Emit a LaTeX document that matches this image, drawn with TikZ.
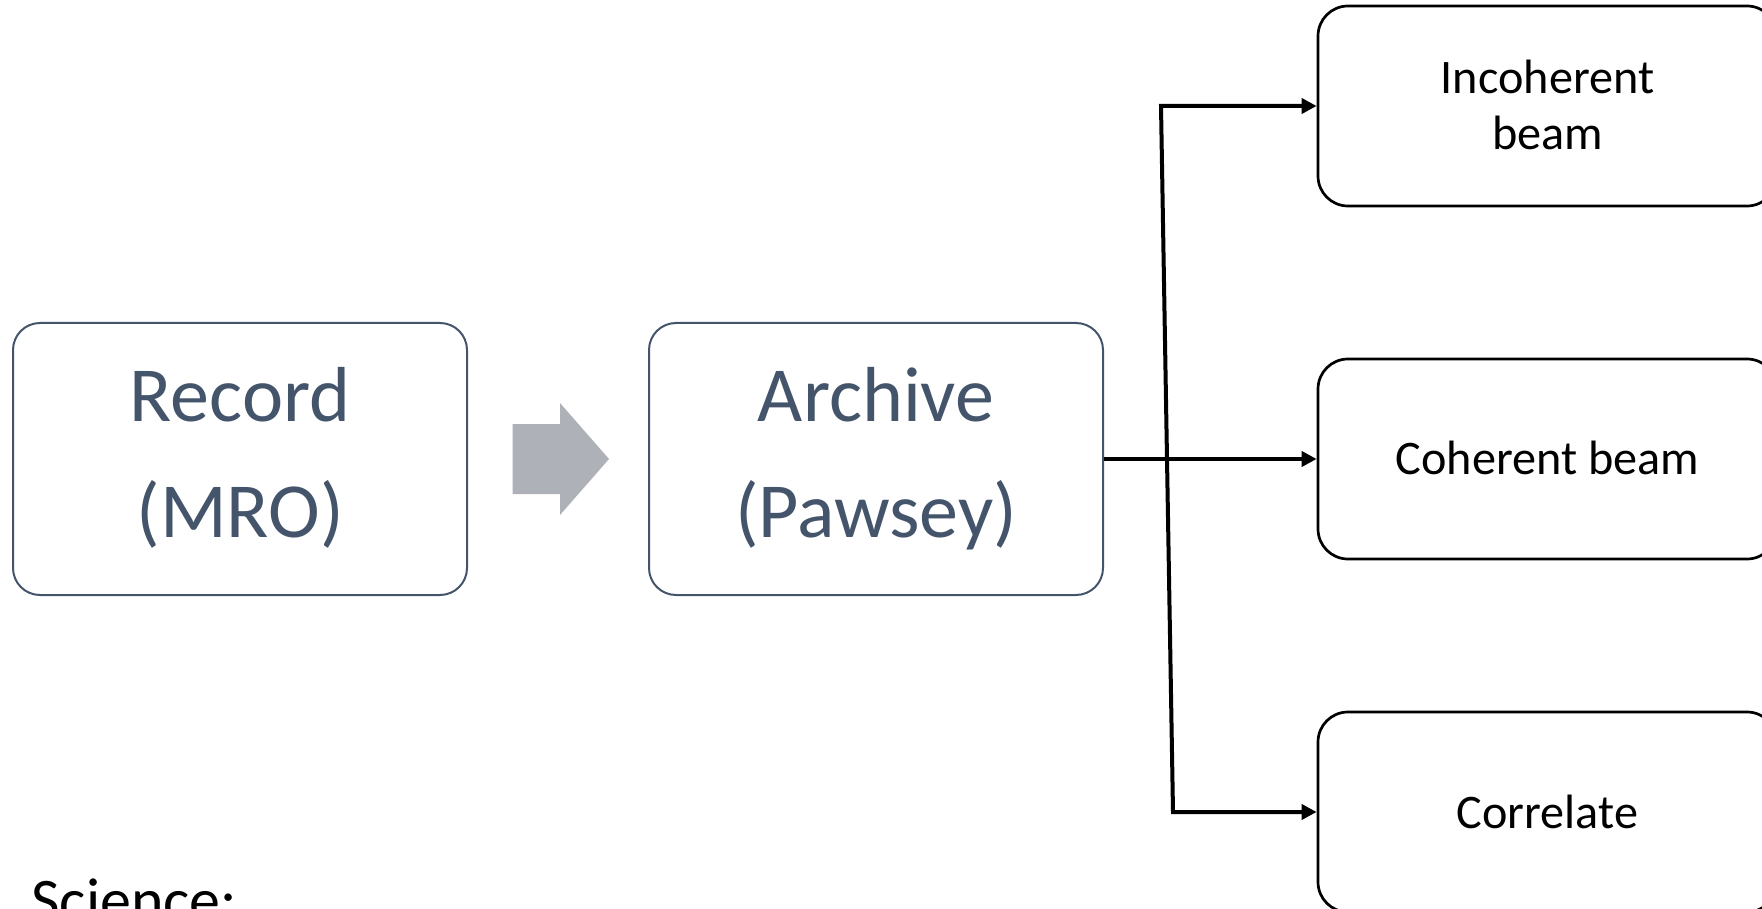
\documentclass[tikz,border=0pt]{standalone}
\usepackage{fontspec}
\setmainfont{Carlito}
\usetikzlibrary{arrows.meta}
\definecolor{slate}{HTML}{44546A}
\definecolor{arrowgray}{HTML}{AEB1B8}
\begin{document}
\begin{tikzpicture}[x=0.5pt,y=-0.5pt,
  leftbox/.style={draw=slate, line width=1pt, rounded corners=13.5pt,
    minimum width=227pt, minimum height=136pt, inner sep=0pt},
  rightbox/.style={draw=black, line width=1.35pt, rounded corners=15pt,
    minimum width=229.5pt, minimum height=100pt, inner sep=0pt},
  lefttext/.style={text=slate, font=\fontsize{39}{46}\selectfont, inner sep=0pt, anchor=base},
  righttext/.style={text=black, font=\fontsize{24.1}{29}\selectfont, inner sep=0pt, anchor=base},
  conn/.style={draw=black, line width=2pt, line join=miter},
  tip/.style={-{Triangle[length=7.5pt,width=7.5pt]}},
]
\useasboundingbox (0,0) rectangle (1762,909);
\clip (0,0) rectangle (1762,909);

% left boxes
\node[leftbox] (rec) at (240,459) {};
\node[lefttext] (rec1) at (240,422) {Record};
\node[lefttext] (rec2) at (240,537) {(MRO)};

\node[leftbox] (arc) at (876,459) {};
\node[lefttext] (arc1) at (876,422) {Archive};
\node[lefttext] (arc2) at (876,537) {(Pawsey)};

% grey block arrow
\fill[arrowgray] (512.7,424) -- (560,424) -- (560,403) -- (609,459) -- (560,515) -- (560,494) -- (512.7,494) -- cycle;

% right boxes
\node[rightbox] (inc) at (1547.5,106) {};
\node[righttext] (inc1) at (1547.5,94) {Incoherent};
\node[righttext] (inc2) at (1547.5,150) {beam};

\node[rightbox] (coh) at (1547.5,459) {};
\node[righttext] (coh1) at (1547.5,474) {Coherent beam};

\node[rightbox] (cor) at (1547.5,812) {};
\node[righttext] (cor1) at (1547.5,828) {Correlate};

% connectors
\coordinate (ctop) at (1161,106);
\coordinate (cbot) at (1173,812);
\draw[conn, {Triangle[length=7.5pt,width=7.5pt]}-{Triangle[length=7.5pt,width=7.5pt]}]
  (inc.west) -- (ctop) -- (cbot) -- (cor.west);
\draw[conn, tip] (arc.east) -- (coh.west);

% science label
\node[anchor=base west, inner sep=0pt, font=\fontsize{31}{37}\selectfont] (sci) at (31,921) {Science:};
\end{tikzpicture}
\end{document}
